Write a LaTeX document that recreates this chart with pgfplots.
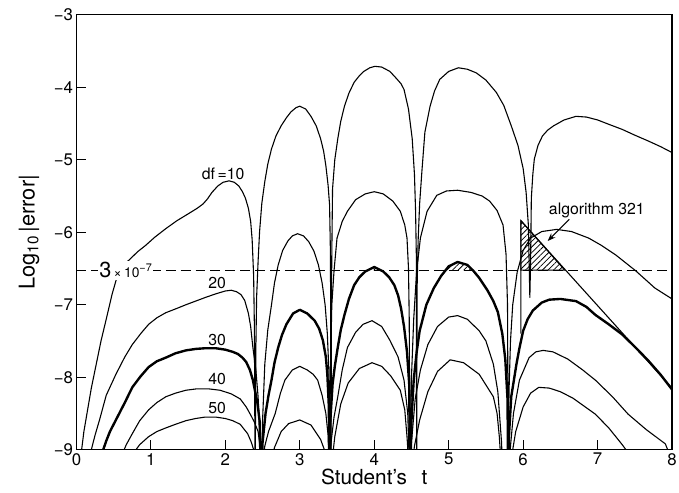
\documentclass[border=0pt]{standalone}
\usepackage{fontspec}
\setmainfont{TeX Gyre Heros}
\usepackage{pgfplots}
\pgfplotsset{compat=1.18}
\usetikzlibrary{patterns.meta, arrows.meta}

\begin{document}
\begin{tikzpicture}
\begin{axis}[
  scale only axis, width=600bp, height=438bp,
  xmin=0, xmax=8, ymin=-9, ymax=-3,
  xtick={0,...,8}, ytick={-9,...,-3},
  yticklabels={−9,−8,−7,−6,−5,−4,−3},
  tick align=inside, tick pos=left,
  major tick length=10bp,
  axis line style={line width=1.2bp},
  tick style={line width=1.2bp, black},
  ticklabel style={font=\fontsize{17}{17}\selectfont},
  /pgf/number format/assume math mode=true,
  xlabel={Student's\hspace{0.7em}t},
  ylabel={Log\textsubscript{10}\,|error|},
  xlabel style={font=\fontsize{21}{21}\selectfont, at={(axis description cs:0.5,-0.080)}, anchor=base},
  ylabel style={font=\fontsize{22}{22}\selectfont, at={(axis description cs:-0.07,0.5)}, anchor=base},
  thinc/.style={black, line width=1.1bp, line join=round},
  thickc/.style={black, line width=2.4bp, line join=round},
]
% df = 10
\addplot[thinc] coordinates {
(0.06,-9.3)(0.07,-9.0)(0.1,-8.75)(0.15,-8.45)(0.2,-8.15)(0.26,-7.85)(0.33,-7.5)(0.4,-7.2)(0.48,-6.85)(0.55,-6.6)(0.62,-6.46)(0.71,-6.38)(0.82,-6.27)(0.93,-6.18)(1.05,-6.07)(1.2,-5.95)(1.35,-5.84)(1.51,-5.74)(1.62,-5.67)(1.7,-5.61)(1.76,-5.54)(1.82,-5.45)(1.9,-5.36)(1.97,-5.31)(2.05,-5.29)(2.12,-5.31)(2.18,-5.36)(2.23,-5.44)(2.27,-5.53)(2.31,-5.67)(2.34,-5.85)(2.36,-6.1)(2.38,-6.6)(2.39,-7.3)(2.40,-9.5)
(2.41,-7.6)(2.42,-6.9)(2.44,-6.4)(2.46,-5.99)(2.49,-5.6)(2.53,-5.30)(2.57,-5.06)(2.62,-4.85)(2.68,-4.67)(2.75,-4.53)(2.82,-4.42)(2.88,-4.34)(2.95,-4.28)(3.0,-4.26)(3.08,-4.3)(3.15,-4.40)(3.22,-4.53)(3.28,-4.71)(3.32,-4.88)(3.35,-5.08)(3.38,-5.35)(3.40,-5.62)(3.41,-6.2)(3.415,-7.0)(3.42,-9.5)
(3.425,-7.0)(3.43,-6.3)(3.44,-5.40)(3.47,-5.0)(3.51,-4.71)(3.55,-4.47)(3.60,-4.26)(3.66,-4.08)(3.73,-3.93)(3.80,-3.84)(3.86,-3.78)(3.94,-3.73)(4.01,-3.71)(4.1,-3.72)(4.21,-3.78)(4.3,-3.88)(4.36,-3.95)(4.40,-4.03)(4.46,-4.3)(4.51,-4.71)(4.54,-5.2)(4.555,-5.7)(4.565,-6.3)(4.57,-9.5)
(4.575,-6.8)(4.59,-6.1)(4.61,-5.6)(4.64,-5.16)(4.68,-4.62)(4.75,-4.26)(4.81,-4.05)(4.88,-3.89)(5.0,-3.78)(5.13,-3.73)(5.25,-3.75)(5.37,-3.80)(5.5,-3.9)(5.64,-4.07)(5.74,-4.25)(5.84,-4.53)(5.93,-4.8)(6.0,-5.12)(6.04,-5.45)(6.07,-5.90)(6.08,-6.4)(6.09,-6.9)
(6.10,-6.4)(6.11,-5.53)(6.13,-5.2)(6.15,-4.99)(6.2,-4.8)(6.26,-4.67)(6.33,-4.59)(6.41,-4.53)(6.55,-4.45)(6.71,-4.40)(6.85,-4.41)(7.0,-4.45)(7.15,-4.51)(7.33,-4.58)(7.5,-4.66)(7.68,-4.74)(7.85,-4.82)(8.0,-4.90)
};
% df = 20
\addplot[thinc] coordinates {
(0.19,-9.3)(0.2,-9.0)(0.25,-8.8)(0.31,-8.59)(0.4,-8.25)(0.53,-7.96)(0.65,-7.72)(0.75,-7.55)(0.87,-7.39)(0.97,-7.27)(1.08,-7.18)(1.2,-7.11)(1.35,-7.05)(1.47,-7.0)(1.6,-6.95)(1.73,-6.90)(1.87,-6.85)(2.0,-6.81)(2.08,-6.80)(2.15,-6.82)(2.21,-6.86)(2.26,-6.94)(2.31,-7.12)(2.34,-7.3)(2.37,-7.59)(2.41,-7.9)(2.44,-8.27)(2.46,-8.7)(2.48,-9.5)
(2.50,-8.6)(2.53,-7.82)(2.57,-7.35)(2.62,-7.0)(2.66,-6.7)(2.71,-6.45)(2.77,-6.25)(2.84,-6.12)(2.9,-6.05)(2.97,-6.02)(3.05,-6.05)(3.12,-6.13)(3.19,-6.26)(3.25,-6.45)(3.30,-6.7)(3.34,-7.0)(3.37,-7.4)(3.39,-7.9)(3.40,-9.5)
(3.41,-8.0)(3.43,-7.0)(3.46,-6.53)(3.50,-6.08)(3.57,-5.85)(3.64,-5.71)(3.75,-5.55)(3.88,-5.47)(4.0,-5.44)(4.12,-5.47)(4.25,-5.57)(4.35,-5.71)(4.41,-5.9)(4.44,-6.08)(4.46,-6.5)(4.47,-7.2)(4.48,-9.5)
(4.50,-8.0)(4.53,-7.2)(4.57,-6.53)(4.62,-6.08)(4.71,-5.71)(4.84,-5.49)(4.97,-5.43)(5.12,-5.42)(5.3,-5.45)(5.45,-5.5)(5.55,-5.57)(5.65,-5.7)(5.73,-5.9)(5.77,-6.3)(5.79,-7.0)(5.80,-9.5)
(5.81,-8.2)(5.83,-7.5)(5.86,-7.0)(5.92,-6.55)(6.0,-6.25)(6.1,-6.08)(6.25,-5.99)(6.45,-5.96)(6.65,-5.99)(6.88,-6.08)(7.05,-6.18)(7.24,-6.31)(7.51,-6.53)(7.77,-6.77)(8.0,-6.92)
};
% df = 30
\addplot[thickc] coordinates {
(0.34,-9.3)(0.36,-9.0)(0.40,-8.88)(0.45,-8.75)(0.53,-8.59)(0.65,-8.35)(0.75,-8.14)(0.86,-7.99)(0.97,-7.86)(1.08,-7.78)(1.2,-7.73)(1.33,-7.67)(1.47,-7.63)(1.6,-7.61)(1.73,-7.60)(1.87,-7.60)(2.0,-7.62)(2.1,-7.65)(2.17,-7.68)(2.23,-7.73)(2.28,-7.79)(2.33,-7.9)(2.37,-8.04)(2.43,-8.35)(2.46,-8.6)(2.48,-9.5)
(2.50,-8.9)(2.54,-8.5)(2.58,-8.25)(2.62,-8.04)(2.66,-7.8)(2.71,-7.59)(2.76,-7.42)(2.82,-7.27)(2.91,-7.12)(3.0,-7.07)(3.1,-7.12)(3.2,-7.22)(3.26,-7.33)(3.31,-7.49)(3.35,-7.72)(3.37,-7.96)(3.39,-8.4)(3.40,-9.5)
(3.41,-8.6)(3.44,-8.1)(3.47,-7.85)(3.51,-7.59)(3.55,-7.35)(3.6,-7.14)(3.66,-6.92)(3.73,-6.73)(3.8,-6.62)(3.88,-6.54)(4.0,-6.48)(4.12,-6.54)(4.2,-6.62)(4.27,-6.73)(4.32,-6.87)(4.36,-7.05)(4.40,-7.3)(4.44,-7.65)(4.47,-8.1)(4.48,-9.5)
(4.50,-8.6)(4.53,-8.04)(4.57,-7.65)(4.61,-7.36)(4.7,-7.0)(4.8,-6.77)(4.9,-6.6)(5.0,-6.47)(5.12,-6.41)(5.25,-6.45)(5.33,-6.53)(5.41,-6.63)(5.52,-6.8)(5.6,-6.95)(5.66,-7.1)(5.72,-7.4)(5.76,-7.75)(5.79,-8.3)(5.80,-9.5)
(5.81,-8.8)(5.84,-8.27)(5.91,-7.82)(5.95,-7.6)(6.0,-7.36)(6.06,-7.2)(6.13,-7.08)(6.25,-6.97)(6.35,-6.93)(6.5,-6.92)(6.71,-6.95)(6.85,-7.03)(6.97,-7.14)(7.15,-7.27)(7.33,-7.41)(7.5,-7.58)(7.68,-7.77)(7.85,-7.97)(8.0,-8.17)
};
% df = 40
\addplot[thinc] coordinates {
(0.60,-9.3)(0.62,-9.05)(0.67,-8.93)(0.75,-8.78)(0.85,-8.6)(0.97,-8.45)(1.08,-8.35)(1.2,-8.27)(1.33,-8.22)(1.47,-8.18)(1.62,-8.16)(1.77,-8.16)(1.93,-8.18)(2.08,-8.23)(2.2,-8.3)(2.28,-8.41)(2.34,-8.52)(2.39,-8.62)(2.44,-8.75)(2.47,-9.0)(2.48,-9.5)
(2.50,-9.2)(2.53,-8.95)(2.58,-8.75)(2.67,-8.5)(2.74,-8.22)(2.8,-8.04)(2.9,-7.9)(3.0,-7.85)(3.1,-7.9)(3.18,-7.96)(3.24,-8.04)(3.3,-8.25)(3.35,-8.5)(3.38,-8.8)(3.40,-9.5)
(3.42,-8.9)(3.46,-8.55)(3.51,-8.27)(3.57,-7.9)(3.64,-7.59)(3.75,-7.38)(3.85,-7.27)(3.97,-7.22)(4.1,-7.3)(4.21,-7.49)(4.32,-7.72)(4.40,-8.04)(4.45,-8.5)(4.48,-9.5)
(4.50,-8.9)(4.55,-8.3)(4.62,-7.9)(4.72,-7.55)(4.85,-7.3)(5.0,-7.17)(5.12,-7.15)(5.25,-7.2)(5.41,-7.36)(5.5,-7.5)(5.6,-7.82)(5.66,-8.2)(5.71,-8.9)(5.73,-9.5)
(5.80,-9.5)(5.83,-8.95)(5.87,-8.5)(5.95,-8.04)(6.08,-7.73)(6.17,-7.65)(6.27,-7.63)(6.4,-7.65)(6.6,-7.75)(6.8,-7.9)(6.97,-8.04)(7.2,-8.27)(7.41,-8.51)(7.65,-8.72)(7.91,-8.92)(7.98,-9.1)
};
% df = 50
\addplot[thinc] coordinates {
(0.78,-9.3)(0.80,-9.0)(0.85,-8.93)(0.97,-8.82)(1.08,-8.75)(1.2,-8.7)(1.33,-8.65)(1.47,-8.6)(1.6,-8.57)(1.73,-8.55)(1.87,-8.55)(2.0,-8.57)(2.1,-8.6)(2.2,-8.65)(2.3,-8.78)(2.35,-8.9)(2.38,-9.0)(2.42,-9.5)
(2.58,-9.5)(2.62,-9.15)(2.66,-8.97)(2.75,-8.75)(2.85,-8.64)(3.0,-8.59)(3.15,-8.66)(3.28,-8.86)(3.33,-9.0)(3.36,-9.3)
(3.42,-9.5)(3.44,-9.1)(3.47,-8.82)(3.55,-8.37)(3.65,-8.08)(3.8,-7.88)(3.97,-7.8)(4.1,-7.85)(4.22,-7.98)(4.35,-8.18)(4.41,-8.45)(4.44,-8.82)(4.47,-9.3)
(4.50,-9.3)(4.54,-8.95)(4.61,-8.59)(4.72,-8.2)(4.85,-7.92)(5.02,-7.76)(5.2,-7.8)(5.41,-7.96)(5.6,-8.27)(5.65,-8.5)(5.68,-8.82)(5.71,-9.3)
(5.82,-9.5)(5.86,-9.0)(5.9,-8.75)(6.0,-8.41)(6.1,-8.22)(6.21,-8.14)(6.35,-8.15)(6.5,-8.2)(6.67,-8.29)(6.97,-8.51)(7.15,-8.7)(7.33,-8.93)(7.38,-9.0)(7.4,-9.2)
};
% hatched regions
\addplot[draw=none, pattern={Lines[angle=45,distance=4bp,line width=0.8bp]}] coordinates {(3.92,-6.523)(4.0,-6.48)(4.08,-6.523)} -- cycle;
\addplot[draw=none, pattern={Lines[angle=45,distance=4bp,line width=0.8bp]}] coordinates {(4.96,-6.523)(5.0,-6.47)(5.12,-6.41)(5.25,-6.45)(5.32,-6.523)} -- cycle;
\addplot[black, line width=1.1bp, pattern={Lines[angle=45,distance=4bp,line width=0.8bp]}] coordinates {(5.97,-6.523)(5.97,-5.84)(6.56,-6.523)} -- cycle;
% algorithm 321
\addplot[thinc] coordinates {(5.97,-7.4)(5.97,-5.84)(8.0,-8.15)};
% 3e-7 threshold
\addplot[black, line width=1.2bp, dash pattern=on 10bp off 5bp] coordinates {(0,-6.523)(8,-6.523)};
\node[fill=white, inner sep=1.5bp] at (axis cs:0.66,-6.523) {{\fontsize{22}{22}\selectfont 3}{\fontsize{14}{14}\selectfont\,×\,10}\raisebox{6bp}{\fontsize{11}{11}\selectfont −7}};
% labels
\node[font=\fontsize{16}{16}\selectfont] at (axis cs:1.97,-5.2) {df\,=10};
\node[font=\fontsize{16}{16}\selectfont] at (axis cs:1.89,-6.70) {20};
\node[font=\fontsize{16}{16}\selectfont] at (axis cs:1.89,-7.48) {30};
\node[font=\fontsize{16}{16}\selectfont] at (axis cs:1.89,-8.03) {40};
\node[font=\fontsize{16}{16}\selectfont] at (axis cs:1.89,-8.43) {50};
\node[font=\fontsize{16}{16}\selectfont] at (axis cs:6.99,-5.70) {algorithm 321};
\draw[-{Stealth[length=8bp,width=6bp]}, line width=1bp] (axis cs:6.62,-5.82) -- (axis cs:6.33,-6.12);
\end{axis}
\pgfresetboundingbox
\useasboundingbox ([shift={(-77bp,-43bp)}]current axis.south west) rectangle ([shift={(7bp,15bp)}]current axis.north east);
\end{tikzpicture}
\end{document}
